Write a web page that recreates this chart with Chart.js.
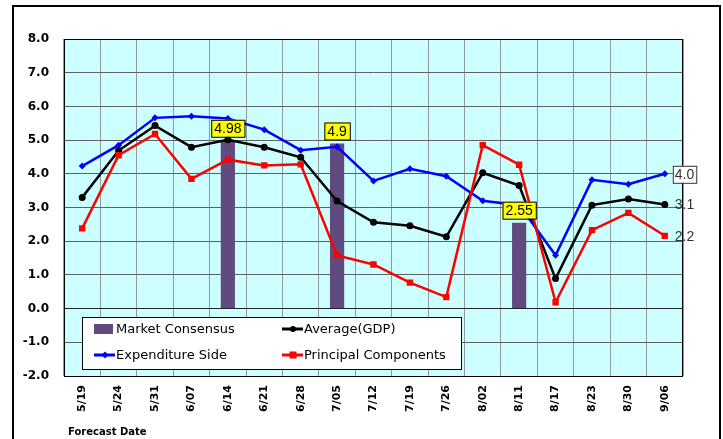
<html>
  <head>
    <script src="https://cdn.jsdelivr.net/npm/chart.js"></script>
    <style>
      body { margin: 0; background: #ffffff; }
      #wrap { position: relative; width: 723px; height: 439px; }
    </style>
  </head>
  <body>
    <div id="wrap">
      <canvas id="gdp_chart" width="723" height="439"></canvas>
    </div>
    <script>
      // Forecast dates (x-axis)
      const dates = ["5/19", "5/24", "5/31", "6/07", "6/14", "6/21", "6/28", "7/05", "7/12",
        "7/19", "7/26", "8/02", "8/11", "8/17", "8/23", "8/30", "9/06"];

      // Series values
      const consensus = [null, null, null, null, 4.98, null, null, 4.9, null,
        null, null, null, 2.55, null, null, null, null];
      const average_gdp = [3.30, 4.69, 5.43, 4.79, 5.01, 4.79, 4.49, 3.19, 2.56,
        2.46, 2.13, 4.03, 3.65, 0.89, 3.07, 3.25, 3.09];
      const expenditure = [4.23, 4.85, 5.66, 5.71, 5.64, 5.31, 4.70, 4.80, 3.79,
        4.15, 3.93, 3.20, 3.07, 1.58, 3.82, 3.69, 4.00];
      const principal = [2.38, 4.55, 5.18, 3.85, 4.42, 4.25, 4.28, 1.58, 1.31,
        0.77, 0.34, 4.85, 4.27, 0.19, 2.33, 2.84, 2.16];

      // Labels at the end of the lines
      const end_labels = ["3.1", "4.0", "2.2"];

      const bar_colour = "#5f4b7e";

      // Frame, legend, labels and axis title
      const decorations = {
        id: "decorations",
        beforeDraw(chart) {
          const ctx = chart.ctx;
          const a = chart.chartArea;
          ctx.save();
          ctx.fillStyle = "#ccffff";
          ctx.fillRect(a.left, a.top, a.right - a.left, a.bottom - a.top);
          ctx.restore();
        },
        afterDatasetsDraw(chart) {
          const ctx = chart.ctx;
          const a = chart.chartArea;
          ctx.save();
          // plot border
          ctx.strokeStyle = "#000000";
          ctx.lineWidth = 1;
          ctx.strokeRect(a.left + 0.5, a.top + 0.5, a.right - a.left - 1, a.bottom - a.top);

          // consensus labels (yellow boxes)
          const bars = chart.getDatasetMeta(0).data;
          ctx.font = "14px 'Liberation Sans'";
          ctx.textAlign = "center";
          ctx.textBaseline = "middle";
          consensus.forEach((v, i) => {
            if (v === null) return;
            const b = bars[i];
            const t = String(v);
            const w = ctx.measureText(t).width + 6;
            const h = 17;
            const y = b.y - 4 - h;
            ctx.fillStyle = "#ffff00";
            ctx.fillRect(b.x - w / 2, y, w, h);
            ctx.strokeStyle = "#000000";
            ctx.strokeRect(b.x - w / 2 + 0.5, y + 0.5, w, h);
            ctx.fillStyle = "#000000";
            ctx.fillText(t, b.x, y + h / 2 + 1);
          });

          // end labels
          ctx.textAlign = "left";
          [1, 2, 3].forEach((d, k) => {
            const p = chart.getDatasetMeta(d).data[dates.length - 1];
            const t = end_labels[k];
            const x = p.x + 10;
            if (d === 2) {
              const w = ctx.measureText(t).width + 4;
              ctx.fillStyle = "#ffffff";
              ctx.fillRect(x - 2, p.y - 8, w, 17);
              ctx.strokeStyle = "#333333";
              ctx.strokeRect(x - 2 + 0.5, p.y - 8 + 0.5, w, 17);
            }
            ctx.fillStyle = "#333333";
            ctx.fillText(t, x, p.y + 1);
          });

          // legend box
          const lx = 82, ly = 317, lw = 379, lh = 52;
          ctx.fillStyle = "#ffffff";
          ctx.fillRect(lx, ly, lw, lh);
          ctx.strokeStyle = "#000000";
          ctx.lineWidth = 1;
          ctx.strokeRect(lx + 0.5, ly + 0.5, lw, lh);
          ctx.font = "13px 'DejaVu Sans'";
          ctx.fillStyle = "#000000";
          const items = [
            { x: 94, y: 329, label: "Market Consensus", kind: "bar" },
            { x: 282, y: 329, label: "Average(GDP)", kind: "line", colour: "#000000", mark: "circle" },
            { x: 94, y: 355, label: "Expenditure Side", kind: "line", colour: "#0000ff", mark: "diamond" },
            { x: 282, y: 355, label: "Principal Components", kind: "line", colour: "#ff0000", mark: "square" },
          ];
          items.forEach((it) => {
            if (it.kind === "bar") {
              ctx.fillStyle = bar_colour;
              ctx.fillRect(it.x, it.y - 5, 19, 10);
            } else {
              ctx.strokeStyle = it.colour;
              ctx.lineWidth = 3;
              ctx.beginPath();
              ctx.moveTo(it.x, it.y);
              ctx.lineTo(it.x + 21, it.y);
              ctx.stroke();
              ctx.fillStyle = it.colour;
              const cx = it.x + 11;
              if (it.mark === "circle") {
                ctx.beginPath();
                ctx.arc(cx, it.y, 3, 0, Math.PI * 2);
                ctx.fill();
              } else if (it.mark === "square") {
                ctx.fillRect(cx - 3.5, it.y - 3.5, 7, 7);
              } else {
                ctx.beginPath();
                ctx.moveTo(cx, it.y - 3.5);
                ctx.lineTo(cx + 3.5, it.y);
                ctx.lineTo(cx, it.y + 3.5);
                ctx.lineTo(cx - 3.5, it.y);
                ctx.closePath();
                ctx.fill();
              }
            }
            ctx.fillStyle = "#000000";
            ctx.textAlign = "left";
            ctx.fillText(it.label, it.x + 22, it.y + 1);
          });

          // axis title
          ctx.font = "bold 10px 'DejaVu Sans'";
          ctx.fillText("Forecast Date", 68, 432);

          // outer frame
          ctx.strokeStyle = "#000000";
          ctx.lineWidth = 2;
          ctx.strokeRect(13, 6, 707, 440);
          ctx.restore();
        },
      };

      const gdp_chart = new Chart("gdp_chart", {
        type: "bar",
        data: {
          labels: dates,
          datasets: [
            {
              type: "bar",
              label: "Market Consensus",
              data: consensus,
              backgroundColor: bar_colour,
              barPercentage: 0.39,
              categoryPercentage: 1,
              order: 4,
            },
            {
              type: "line",
              label: "Average(GDP)",
              data: average_gdp,
              borderColor: "#000000",
              backgroundColor: "#000000",
              borderWidth: 2.5,
              pointStyle: "circle",
              pointRadius: 3.5,
              pointBorderWidth: 0,
              tension: 0,
              order: 3,
            },
            {
              type: "line",
              label: "Expenditure Side",
              data: expenditure,
              borderColor: "#0000ff",
              backgroundColor: "#0000ff",
              borderWidth: 2.5,
              pointStyle: "rectRot",
              pointRadius: 3.5,
              pointBorderWidth: 0,
              tension: 0,
              order: 2,
            },
            {
              type: "line",
              label: "Principal Components",
              data: principal,
              borderColor: "#ff0000",
              backgroundColor: "#ff0000",
              borderWidth: 2.5,
              pointStyle: "rect",
              pointRadius: 4.5,
              pointBorderWidth: 0,
              tension: 0,
              order: 1,
            },
          ],
        },
        plugins: [decorations],
        options: {
          responsive: false,
          animation: false,
          layout: {
            padding: { left: 0, top: 39, right: 40, bottom: 0 },
          },
          plugins: {
            legend: { display: false },
            tooltip: { enabled: false },
          },
          scales: {
            x: {
              afterFit: (s) => { s.height = 63; },
              grid: { offset: true, color: "#8f9a9a", drawTicks: false },
              border: { display: false },
              ticks: {
                color: "#000000",
                font: { family: "DejaVu Sans", size: 11, weight: "bold" },
                minRotation: 90,
                maxRotation: 90,
                padding: 9,
                autoSkip: false,
              },
            },
            y: {
              min: -2,
              max: 8,
              afterFit: (s) => { s.width = 64; },
              grid: {
                color: (c) => (c.tick.value === 0 ? "#222222" : "#606060"),
                drawTicks: false,
              },
              border: { display: false },
              ticks: {
                stepSize: 1,
                padding: 15,
                color: "#000000",
                font: { family: "DejaVu Sans", size: 12, weight: "bold" },
                callback: (v) => v.toFixed(1),
              },
            },
          },
        },
      });
    </script>
  </body>
</html>
